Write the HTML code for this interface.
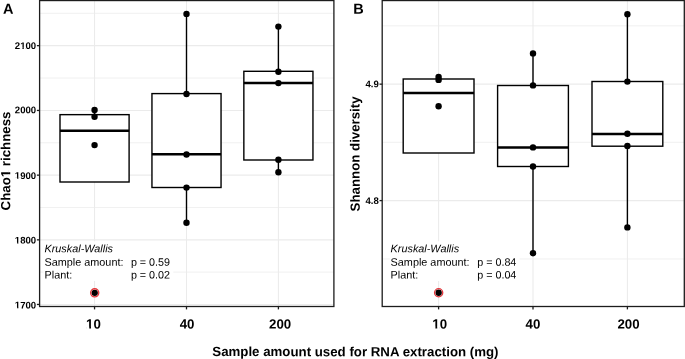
<!DOCTYPE html>
<html><head><meta charset="utf-8"><title>Chao1 richness and Shannon diversity by sample amount</title><style>
html,body{margin:0;padding:0;background:#fff;}
body{width:685px;height:359px;overflow:hidden;font-family:"Liberation Sans", sans-serif;}
svg{display:block;}
text{filter:grayscale(1);text-rendering:geometricPrecision;}
</style></head><body>
<svg width="685" height="359" viewBox="0 0 685 359" font-family='"Liberation Sans", sans-serif' fill="#000">
<rect width="685" height="359" fill="#fff"/>
<rect x="39.6" y="0.55" width="294.30" height="305.95" fill="#fff"/>
<g stroke="#ebebeb"><line x1="39.6" x2="333.9" y1="272.1" y2="272.1" stroke-width="0.75"/><line x1="39.6" x2="333.9" y1="207.45" y2="207.45" stroke-width="0.75"/><line x1="39.6" x2="333.9" y1="142.75" y2="142.75" stroke-width="0.75"/><line x1="39.6" x2="333.9" y1="78.0" y2="78.0" stroke-width="0.75"/><line x1="39.6" x2="333.9" y1="13.3" y2="13.3" stroke-width="0.75"/><line x1="39.6" x2="333.9" y1="304.45" y2="304.45" stroke-width="1.07"/><line x1="39.6" x2="333.9" y1="239.85" y2="239.85" stroke-width="1.07"/><line x1="39.6" x2="333.9" y1="175.15" y2="175.15" stroke-width="1.07"/><line x1="39.6" x2="333.9" y1="110.45" y2="110.45" stroke-width="1.07"/><line x1="39.6" x2="333.9" y1="45.65" y2="45.65" stroke-width="1.07"/><line x1="94.55" x2="94.55" y1="0.55" y2="306.5" stroke-width="1.07"/><line x1="186.5" x2="186.5" y1="0.55" y2="306.5" stroke-width="1.07"/><line x1="278.4" x2="278.4" y1="0.55" y2="306.5" stroke-width="1.07"/></g>
<g stroke="#000" stroke-width="1.4"><line x1="94.55" x2="94.55" y1="110.05" y2="114.65"/><line x1="94.55" x2="94.55" y1="182.0" y2="182.0"/><rect x="60.00" y="114.65" width="69.10" height="67.35" fill="#fff"/><line x1="60.00" x2="129.10" y1="130.7" y2="130.7" stroke-width="2.5"/><line x1="186.5" x2="186.5" y1="13.9" y2="93.6"/><line x1="186.5" x2="186.5" y1="187.5" y2="222.7"/><rect x="151.95" y="93.6" width="69.10" height="93.90" fill="#fff"/><line x1="151.95" x2="221.05" y1="154.35" y2="154.35" stroke-width="2.5"/><line x1="278.4" x2="278.4" y1="26.6" y2="71.3"/><line x1="278.4" x2="278.4" y1="160.0" y2="172.3"/><rect x="243.85" y="71.3" width="69.10" height="88.70" fill="#fff"/><line x1="243.85" x2="312.95" y1="83.0" y2="83.0" stroke-width="2.5"/></g>
<g fill="#000"><circle cx="94.55" cy="110.05" r="3.2"/><circle cx="94.55" cy="116.7" r="3.2"/><circle cx="94.55" cy="145.1" r="3.2"/><circle cx="186.5" cy="13.9" r="3.2"/><circle cx="186.5" cy="94.0" r="3.2"/><circle cx="186.5" cy="154.5" r="3.2"/><circle cx="186.5" cy="187.6" r="3.2"/><circle cx="186.5" cy="222.7" r="3.2"/><circle cx="278.4" cy="26.6" r="3.2"/><circle cx="278.4" cy="71.7" r="3.2"/><circle cx="278.4" cy="83.1" r="3.2"/><circle cx="278.4" cy="159.7" r="3.2"/><circle cx="278.4" cy="172.3" r="3.2"/><circle cx="94.7" cy="292.85" r="3.2"/></g>
<circle cx="94.7" cy="292.85" r="4.1" fill="none" stroke="#e2353a" stroke-width="1.3"/>
<rect x="43.5" y="241.3" width="129.90" height="39.70" fill="#fff"/>
<text transform="rotate(0.05 44.5 252.3)" x="44.5" y="252.3" font-size="10.85" font-style="italic">Kruskal-Wallis</text>
<text transform="rotate(0.05 44.5 265.7)" x="44.5" y="265.7" font-size="10.85">Sample amount:</text>
<text transform="rotate(0.05 44.5 278.5)" x="44.5" y="278.5" font-size="10.85">Plant:</text>
<text transform="rotate(0.05 130.9 265.7)" x="130.9" y="265.7" font-size="10.75">p = 0.59</text>
<text transform="rotate(0.05 130.9 278.5)" x="130.9" y="278.5" font-size="10.75">p = 0.02</text>
<rect x="39.6" y="0.55" width="294.30" height="305.95" fill="none" stroke="#1c1c1c" stroke-width="1.3"/>
<g stroke="#1c1c1c" stroke-width="1.3"><line x1="36.90" x2="39.6" y1="304.45" y2="304.45"/><line x1="36.90" x2="39.6" y1="239.85" y2="239.85"/><line x1="36.90" x2="39.6" y1="175.15" y2="175.15"/><line x1="36.90" x2="39.6" y1="110.45" y2="110.45"/><line x1="36.90" x2="39.6" y1="45.65" y2="45.65"/><line x1="94.55" x2="94.55" y1="306.5" y2="309.40"/><line x1="186.5" x2="186.5" y1="306.5" y2="309.40"/><line x1="278.4" x2="278.4" y1="306.5" y2="309.40"/></g>
<text transform="rotate(0.05 36.2 308.4)" x="36.2" y="308.4" font-size="9.6" font-weight="bold" text-anchor="end">1700</text>
<text transform="rotate(0.05 36.2 243.5)" x="36.2" y="243.5" font-size="9.6" font-weight="bold" text-anchor="end">1800</text>
<text transform="rotate(0.05 36.2 178.9)" x="36.2" y="178.9" font-size="9.6" font-weight="bold" text-anchor="end">1900</text>
<text transform="rotate(0.05 36.2 113.2)" x="36.2" y="113.2" font-size="9.6" font-weight="bold" text-anchor="end">2000</text>
<text transform="rotate(0.05 36.2 49.0)" x="36.2" y="49.0" font-size="9.6" font-weight="bold" text-anchor="end">2100</text>
<text transform="rotate(0.05 93.5 328.5)" x="93.5" y="328.5" font-size="13.3" font-weight="bold" text-anchor="middle">10</text>
<text transform="rotate(0.05 187.1 328.5)" x="187.1" y="328.5" font-size="13.3" font-weight="bold" text-anchor="middle">40</text>
<text transform="rotate(0.05 280.1 328.5)" x="280.1" y="328.5" font-size="13.3" font-weight="bold" text-anchor="middle">200</text>
<text transform="rotate(0.05 2.9 13.7)" x="2.9" y="13.7" font-size="14.5" font-weight="bold">A</text>
<rect x="382.2" y="0.55" width="302.10" height="305.95" fill="#fff"/>
<g stroke="#ebebeb"><line x1="382.2" x2="684.3" y1="258.95" y2="258.95" stroke-width="0.75"/><line x1="382.2" x2="684.3" y1="142.3" y2="142.3" stroke-width="0.75"/><line x1="382.2" x2="684.3" y1="25.85" y2="25.85" stroke-width="0.75"/><line x1="382.2" x2="684.3" y1="200.6" y2="200.6" stroke-width="1.07"/><line x1="382.2" x2="684.3" y1="84.15" y2="84.15" stroke-width="1.07"/><line x1="438.6" x2="438.6" y1="0.55" y2="306.5" stroke-width="1.07"/><line x1="533.0" x2="533.0" y1="0.55" y2="306.5" stroke-width="1.07"/><line x1="627.4" x2="627.4" y1="0.55" y2="306.5" stroke-width="1.07"/></g>
<g stroke="#000" stroke-width="1.4"><line x1="438.6" x2="438.6" y1="76.9" y2="79.0"/><line x1="438.6" x2="438.6" y1="153.0" y2="153.0"/><rect x="403.20" y="79.0" width="70.80" height="74.00" fill="#fff"/><line x1="403.20" x2="474.00" y1="93.0" y2="93.0" stroke-width="2.5"/><line x1="533.0" x2="533.0" y1="53.4" y2="85.5"/><line x1="533.0" x2="533.0" y1="166.5" y2="253.2"/><rect x="497.60" y="85.5" width="70.80" height="81.00" fill="#fff"/><line x1="497.60" x2="568.40" y1="147.5" y2="147.5" stroke-width="2.5"/><line x1="627.4" x2="627.4" y1="14.2" y2="81.5"/><line x1="627.4" x2="627.4" y1="146.2" y2="227.4"/><rect x="592.00" y="81.5" width="70.80" height="64.70" fill="#fff"/><line x1="592.00" x2="662.80" y1="134.0" y2="134.0" stroke-width="2.5"/></g>
<g fill="#000"><circle cx="438.6" cy="76.9" r="3.2"/><circle cx="438.6" cy="79.9" r="3.2"/><circle cx="438.6" cy="106.3" r="3.2"/><circle cx="533.0" cy="53.4" r="3.2"/><circle cx="533.0" cy="85.4" r="3.2"/><circle cx="533.0" cy="147.4" r="3.2"/><circle cx="533.0" cy="166.5" r="3.2"/><circle cx="533.0" cy="253.2" r="3.2"/><circle cx="627.4" cy="14.2" r="3.2"/><circle cx="627.4" cy="81.6" r="3.2"/><circle cx="627.4" cy="133.8" r="3.2"/><circle cx="627.4" cy="146.0" r="3.2"/><circle cx="627.4" cy="227.4" r="3.2"/><circle cx="438.65" cy="292.75" r="3.2"/></g>
<circle cx="438.65" cy="292.75" r="4.1" fill="none" stroke="#e2353a" stroke-width="1.3"/>
<rect x="389.8" y="241.3" width="129.80" height="39.70" fill="#fff"/>
<text transform="rotate(0.05 390.6 252.3)" x="390.6" y="252.3" font-size="10.85" font-style="italic">Kruskal-Wallis</text>
<text transform="rotate(0.05 390.6 265.7)" x="390.6" y="265.7" font-size="10.85">Sample amount:</text>
<text transform="rotate(0.05 390.6 278.5)" x="390.6" y="278.5" font-size="10.85">Plant:</text>
<text transform="rotate(0.05 477.2 265.7)" x="477.2" y="265.7" font-size="10.75">p = 0.84</text>
<text transform="rotate(0.05 477.2 278.5)" x="477.2" y="278.5" font-size="10.75">p = 0.04</text>
<rect x="382.2" y="0.55" width="302.10" height="305.95" fill="none" stroke="#1c1c1c" stroke-width="1.3"/>
<g stroke="#1c1c1c" stroke-width="1.3"><line x1="379.50" x2="382.2" y1="200.6" y2="200.6"/><line x1="379.50" x2="382.2" y1="84.15" y2="84.15"/><line x1="438.6" x2="438.6" y1="306.5" y2="309.40"/><line x1="533.0" x2="533.0" y1="306.5" y2="309.40"/><line x1="627.4" x2="627.4" y1="306.5" y2="309.40"/></g>
<text transform="rotate(0.05 378.8 204.0)" x="378.8" y="204.0" font-size="9.6" font-weight="bold" text-anchor="end">4.8</text>
<text transform="rotate(0.05 378.8 87.3)" x="378.8" y="87.3" font-size="9.6" font-weight="bold" text-anchor="end">4.9</text>
<text transform="rotate(0.05 439.7 328.5)" x="439.7" y="328.5" font-size="13.3" font-weight="bold" text-anchor="middle">10</text>
<text transform="rotate(0.05 533.0 328.5)" x="533.0" y="328.5" font-size="13.3" font-weight="bold" text-anchor="middle">40</text>
<text transform="rotate(0.05 628.5 328.5)" x="628.5" y="328.5" font-size="13.3" font-weight="bold" text-anchor="middle">200</text>
<text transform="rotate(0.05 353.2 13.7)" x="353.2" y="13.7" font-size="14.5" font-weight="bold">B</text>
<text transform="rotate(0.05 355.4 356.2)" x="355.4" y="356.2" font-size="13.27" font-weight="bold" text-anchor="middle">Sample amount used for RNA extraction (mg)</text>
<text transform="translate(10.3,161.0) rotate(-90.05)" x="0" y="0" font-size="13.27" font-weight="bold" text-anchor="middle">Chao1 richness</text>
<text transform="translate(359.6,153.9) rotate(-90.05)" x="0" y="0" font-size="13.27" font-weight="bold" text-anchor="middle">Shannon diversity</text>
<g fill="#fff"><rect transform="rotate(0.05 36.2 308.4)" x="14.961" y="306.920" width="2.136" height="2.280"/><rect transform="rotate(0.05 36.2 308.4)" x="18.414" y="306.920" width="1.814" height="2.280"/><rect transform="rotate(0.05 36.2 243.5)" x="14.961" y="242.020" width="2.136" height="2.280"/><rect transform="rotate(0.05 36.2 243.5)" x="18.414" y="242.020" width="1.814" height="2.280"/><rect transform="rotate(0.05 36.2 178.9)" x="14.961" y="177.420" width="2.136" height="2.280"/><rect transform="rotate(0.05 36.2 178.9)" x="18.414" y="177.420" width="1.814" height="2.280"/><rect transform="rotate(0.05 36.2 49.0)" x="20.289" y="47.520" width="2.136" height="2.280"/><rect transform="rotate(0.05 36.2 49.0)" x="23.742" y="47.520" width="1.814" height="2.280"/><rect transform="rotate(0.05 93.5 328.5)" x="86.439" y="326.643" width="2.766" height="2.657"/><rect transform="rotate(0.05 93.5 328.5)" x="91.031" y="326.643" width="2.398" height="2.657"/><rect transform="rotate(0.05 439.7 328.5)" x="432.639" y="326.643" width="2.766" height="2.657"/><rect transform="rotate(0.05 439.7 328.5)" x="437.231" y="326.643" width="2.398" height="2.657"/><rect transform="translate(10.3,161.0) rotate(-90.05)" x="-15.906" y="-1.854" width="2.761" height="2.654"/><rect transform="translate(10.3,161.0) rotate(-90.05)" x="-11.324" y="-1.854" width="2.393" height="2.654"/></g>
</svg>
</body></html>
